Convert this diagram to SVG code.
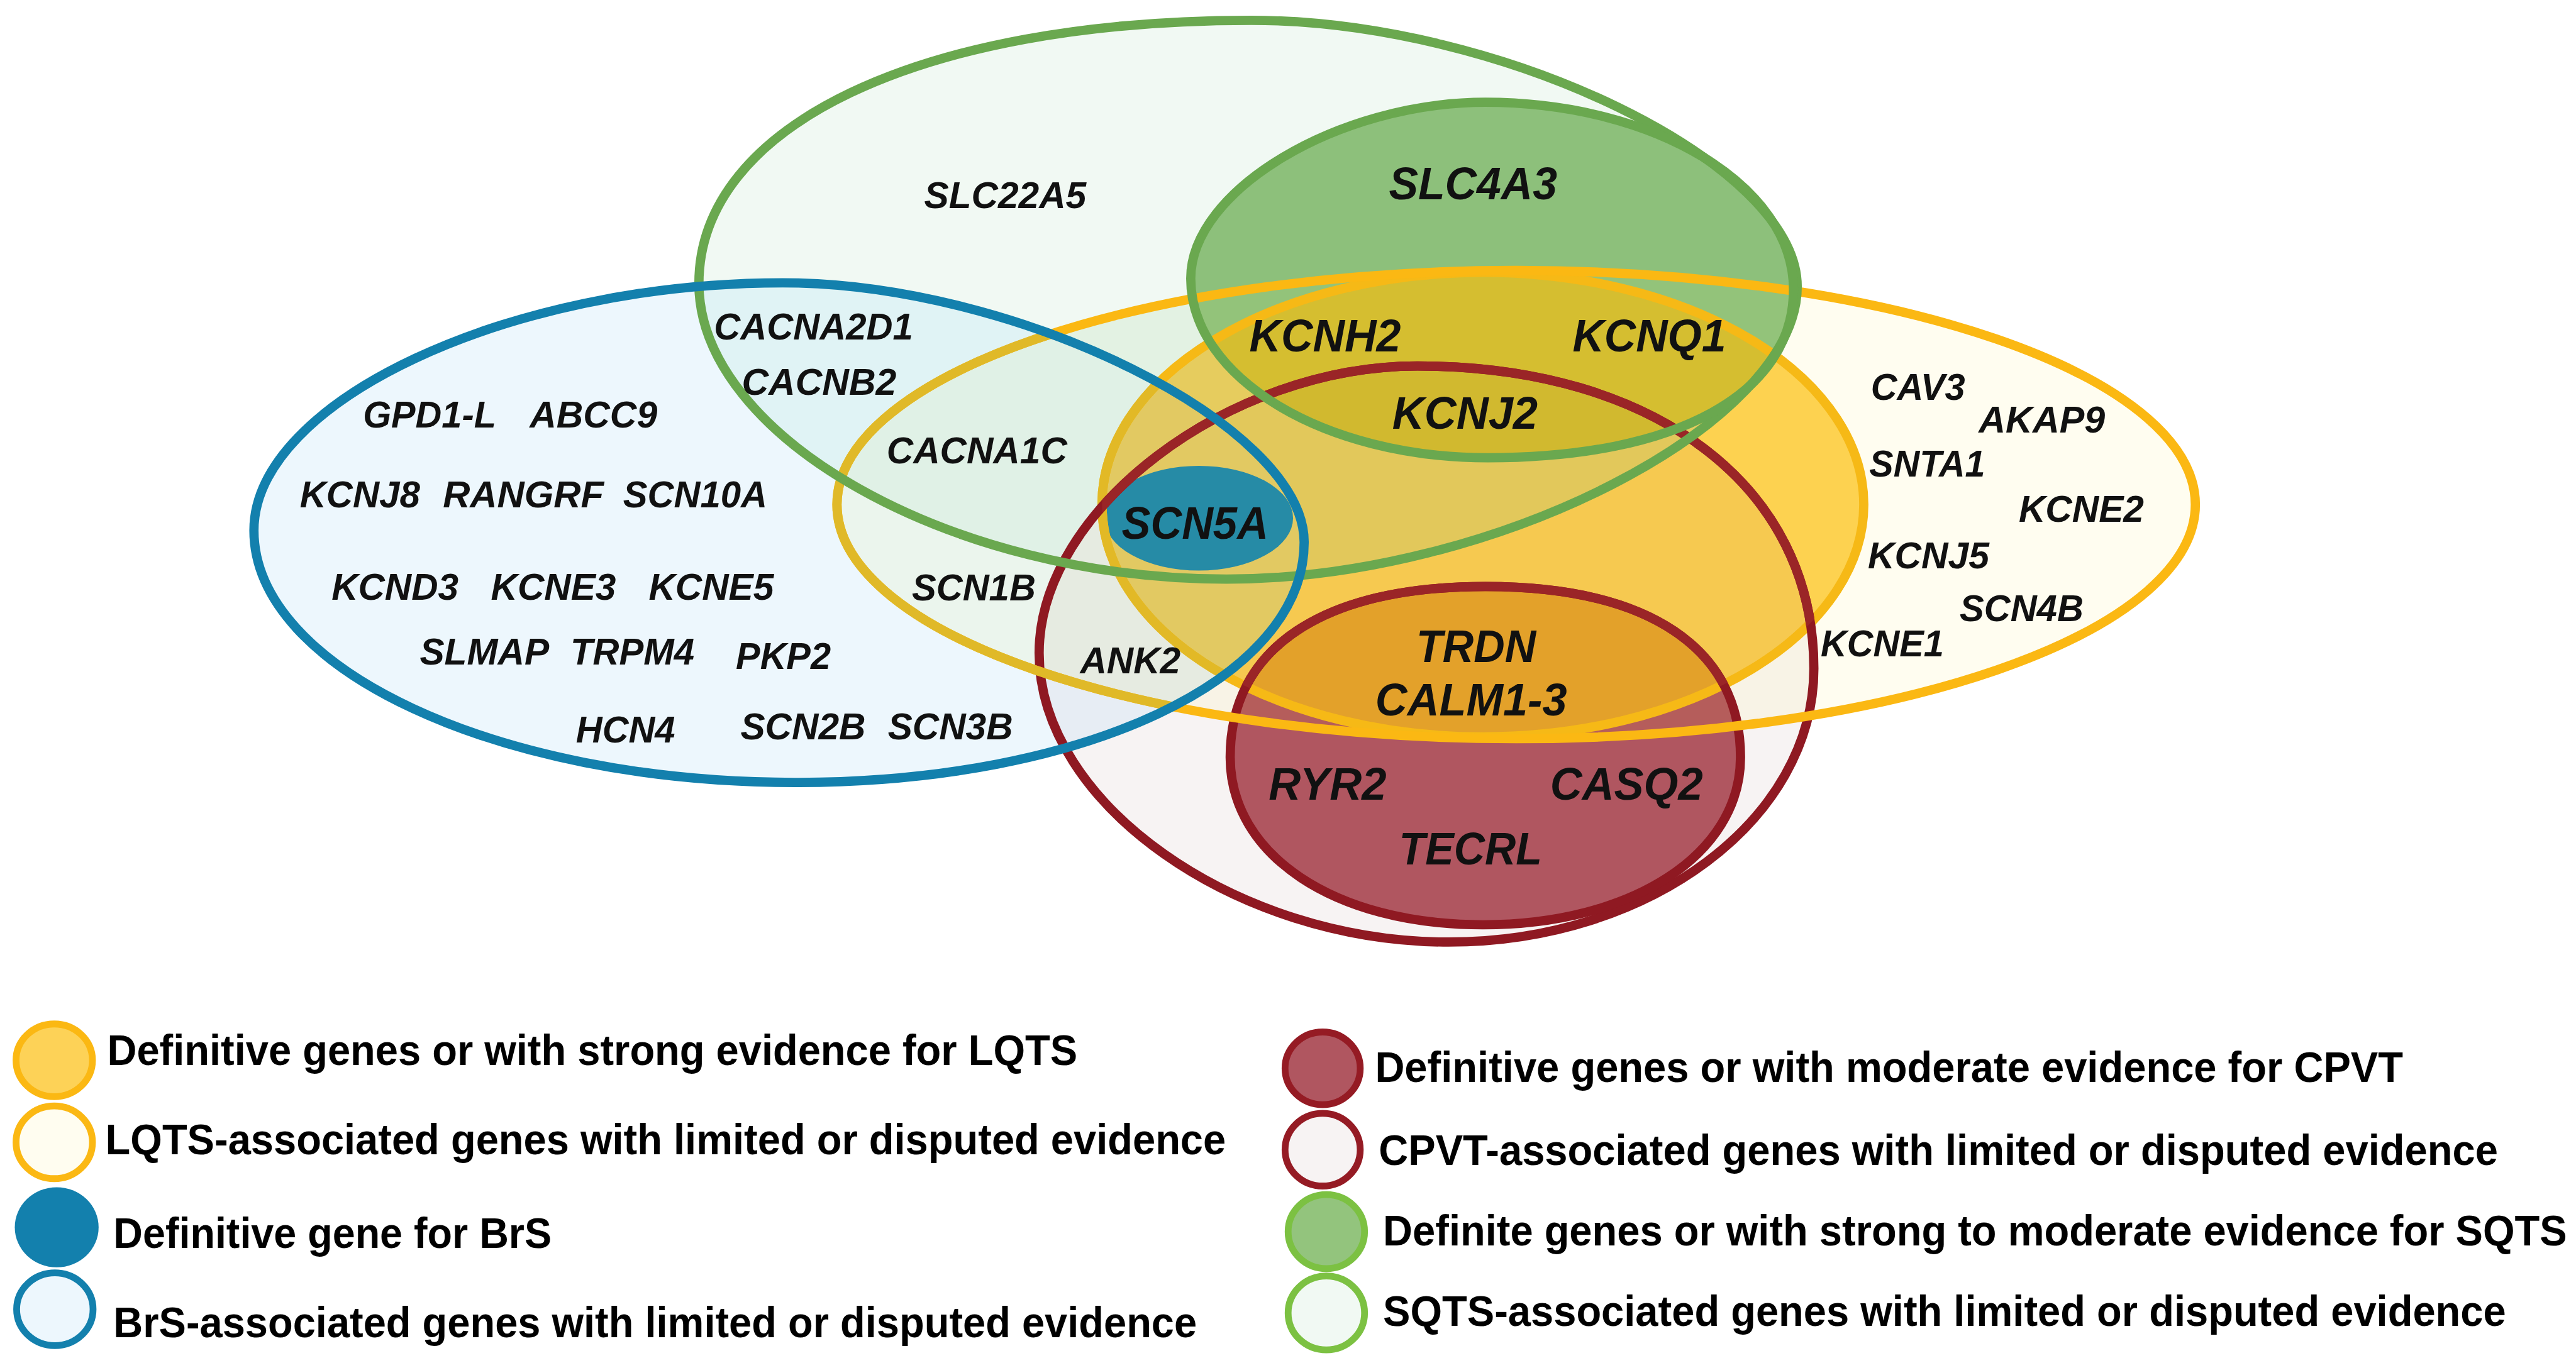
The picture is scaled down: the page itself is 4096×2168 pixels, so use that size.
<svg xmlns="http://www.w3.org/2000/svg" width="4096" height="2168" viewBox="0 0 4096 2168">
<style>
.g{font-family:"Liberation Sans",Arial,sans-serif;font-weight:700;font-style:italic;fill:#111;text-anchor:middle}
.s{font-size:61px}
.L{font-size:74px}
.lg{font-family:"Liberation Sans",Arial,sans-serif;font-weight:700;font-size:69px;fill:#000}
.ol{fill:none;stroke-width:15}
.lc{stroke-width:11}
</style>
<defs>
<ellipse id="YB" cx="2460" cy="819" rx="1102" ry="380"/>
<ellipse id="YS" cx="2406" cy="819" rx="618" ry="377"/>
<path id="GB" d="M1134,460 C1134,204 1492,33 2030,33 C2438,33 2916,266 2916,465 C2916,688 2425,940 1990,940 C1545,940 1134,710 1134,460 Z"/>
<path id="GS" d="M1932,452 C1932,309 2171,166 2410,166 C2686,166 2910,302 2910,470 C2910,639 2721,743 2414,743 C2148,743 1932,613 1932,452 Z"/>
<path id="RB" d="M1686,1060 C1686,827 1993,594 2300,594 C2686,594 2943,790 2943,1085 C2943,1330 2677,1529 2350,1529 C2005,1529 1686,1304 1686,1060 Z"/>
<path id="RS" d="M1996,1229 C1996,1052 2145,952 2410,952 C2675,952 2824,1052 2824,1229 C2824,1387 2648,1501 2406,1501 C2164,1501 1996,1387 1996,1229 Z"/>
<path id="BB" d="M412,861 C412,652 824,459 1270,459 C1651,459 2116,690 2116,880 C2116,1102 1761,1270 1290,1270 C807,1270 412,1086 412,861 Z"/>
<ellipse id="BS" cx="1945" cy="841" rx="153" ry="85"/>
<clipPath id="cYB"><use href="#YB"/></clipPath>
<clipPath id="cYS"><use href="#YS"/></clipPath>
<clipPath id="cGB"><use href="#GB"/></clipPath>
<clipPath id="cRB"><use href="#RB"/></clipPath>
<clipPath id="cBB"><use href="#BB"/></clipPath>
</defs>
<rect width="4096" height="2168" fill="#ffffff"/>
<g transform="scale(0.98)">
<g id="set-regions">
<use href="#YB" fill="#fffdf0"/>
<use href="#BB" fill="#edf7fd"/>
<use href="#GB" fill="#f1f9f3"/>
<use href="#RB" fill="#f7f3f3"/>
<g clip-path="url(#cGB)"><use href="#BB" fill="#e0f3f5"/><use href="#YB" fill="#e3f2e3"/></g>
<g clip-path="url(#cYB)"><use href="#BB" fill="#ebf5ed"/><use href="#RB" fill="#f8f3e6"/></g>
<g clip-path="url(#cGB)"><g clip-path="url(#cYB)"><use href="#BB" fill="#e0f1e6"/></g></g>
<g clip-path="url(#cBB)"><use href="#RB" fill="#e7edf4"/></g>
<g clip-path="url(#cBB)"><g clip-path="url(#cYB)"><use href="#RB" fill="#e6ebe1"/></g></g>
<use href="#GS" fill="#8dc07b"/>
<g clip-path="url(#cYB)"><use href="#GS" fill="#93c37a"/></g>
<use href="#RS" fill="#b05660"/>
<g clip-path="url(#cYB)"><use href="#RS" fill="#b55d5b"/></g>
<use href="#YS" fill="#fdd250"/>
<g clip-path="url(#cYS)">
<use href="#RB" fill="#f6c950"/>
<use href="#GB" fill="#e6cc5e"/>
<g clip-path="url(#cRB)"><use href="#GB" fill="#e2c85b"/></g>
<use href="#BB" fill="#e2c962"/>
<use href="#GS" fill="#d5be30"/>
<g clip-path="url(#cRB)"><use href="#GS" fill="#d1b92f"/></g>
<use href="#RS" fill="#e3a12a"/>
</g>
<use href="#BS" fill="#268ba6"/>
</g>
<g id="set-outlines" class="ol">
<use href="#YS" stroke="#f6b916"/>
<g clip-path="url(#cBB)"><use href="#YS" stroke="#e2b926"/></g>
<use href="#RB" stroke="#8f1922"/>
<use href="#RS" stroke="#8f1922"/>
<g clip-path="url(#cYS)"><use href="#RB" stroke="#9a2527"/><use href="#RS" stroke="#9a2527"/></g>
<use href="#YB" stroke="#fbb813"/>
<g clip-path="url(#cBB)"><use href="#YB" stroke="#e0b928"/></g>
<use href="#GB" stroke="#6aa84f"/>
<use href="#GS" stroke="#6aa84f"/>
<use href="#BB" stroke="#1380ad"/>
</g>
<g id="labels-brs-limited" class="g s">
<text x="697" y="694" textLength="216" lengthAdjust="spacingAndGlyphs">GPD1-L</text>
<text x="963" y="694" textLength="207" lengthAdjust="spacingAndGlyphs">ABCC9</text>
<text x="584" y="823" textLength="195" lengthAdjust="spacingAndGlyphs">KCNJ8</text>
<text x="849" y="823" textLength="261" lengthAdjust="spacingAndGlyphs">RANGRF</text>
<text x="1128" y="823" textLength="234" lengthAdjust="spacingAndGlyphs">SCN10A</text>
<text x="641" y="973" textLength="206" lengthAdjust="spacingAndGlyphs">KCND3</text>
<text x="898" y="973" textLength="203" lengthAdjust="spacingAndGlyphs">KCNE3</text>
<text x="1154" y="973" textLength="203" lengthAdjust="spacingAndGlyphs">KCNE5</text>
<text x="786" y="1079" textLength="210" lengthAdjust="spacingAndGlyphs">SLMAP</text>
<text x="1026" y="1079" textLength="201" lengthAdjust="spacingAndGlyphs">TRPM4</text>
<text x="1271" y="1086" textLength="154" lengthAdjust="spacingAndGlyphs">PKP2</text>
<text x="1015" y="1205" textLength="161" lengthAdjust="spacingAndGlyphs">HCN4</text>
<text x="1303" y="1200" textLength="203" lengthAdjust="spacingAndGlyphs">SCN2B</text>
<text x="1542" y="1200" textLength="203" lengthAdjust="spacingAndGlyphs">SCN3B</text>
</g>
<g id="labels-brs-sqts" class="g s">
<text x="1320" y="551" textLength="323" lengthAdjust="spacingAndGlyphs">CACNA2D1</text>
<text x="1329" y="641" textLength="251" lengthAdjust="spacingAndGlyphs">CACNB2</text>
</g>
<g id="labels-sqts-limited" class="g s">
<text x="1631" y="338" textLength="263" lengthAdjust="spacingAndGlyphs">SLC22A5</text>
</g>
<g id="labels-sqts-definitive" class="g L">
<text x="2390" y="323" textLength="273" lengthAdjust="spacingAndGlyphs">SLC4A3</text>
</g>
<g id="labels-brs-lqts" class="g s">
<text x="1585" y="752" textLength="293" lengthAdjust="spacingAndGlyphs">CACNA1C</text>
<text x="1580" y="974" textLength="201" lengthAdjust="spacingAndGlyphs">SCN1B</text>
<text x="1834" y="1093" textLength="163" lengthAdjust="spacingAndGlyphs">ANK2</text>
</g>
<g id="labels-brs-definitive" class="g L">
<text x="1939" y="874" textLength="238" lengthAdjust="spacingAndGlyphs">SCN5A</text>
</g>
<g id="labels-lqts-sqts" class="g L">
<text x="2150" y="570" textLength="246" lengthAdjust="spacingAndGlyphs">KCNH2</text>
<text x="2676" y="570" textLength="249" lengthAdjust="spacingAndGlyphs">KCNQ1</text>
<text x="2377" y="696" textLength="236" lengthAdjust="spacingAndGlyphs">KCNJ2</text>
</g>
<g id="labels-lqts-cpvt" class="g L">
<text x="2395" y="1074" textLength="194" lengthAdjust="spacingAndGlyphs">TRDN</text>
<text x="2387" y="1161" textLength="311" lengthAdjust="spacingAndGlyphs">CALM1-3</text>
</g>
<g id="labels-cpvt-definitive" class="g L">
<text x="2154" y="1298" textLength="191" lengthAdjust="spacingAndGlyphs">RYR2</text>
<text x="2639" y="1298" textLength="248" lengthAdjust="spacingAndGlyphs">CASQ2</text>
<text x="2386" y="1403" textLength="232" lengthAdjust="spacingAndGlyphs">TECRL</text>
</g>
<g id="labels-lqts-limited" class="g s">
<text x="3112" y="649" textLength="153" lengthAdjust="spacingAndGlyphs">CAV3</text>
<text x="3313" y="702" textLength="205" lengthAdjust="spacingAndGlyphs">AKAP9</text>
<text x="3127" y="773" textLength="188" lengthAdjust="spacingAndGlyphs">SNTA1</text>
<text x="3377" y="847" textLength="203" lengthAdjust="spacingAndGlyphs">KCNE2</text>
<text x="3129" y="922" textLength="197" lengthAdjust="spacingAndGlyphs">KCNJ5</text>
<text x="3280" y="1008" textLength="201" lengthAdjust="spacingAndGlyphs">SCN4B</text>
<text x="3054" y="1065" textLength="200" lengthAdjust="spacingAndGlyphs">KCNE1</text>
</g>
<g id="legend">
<g id="legend-lqts-definitive"><ellipse class="lc" cx="88" cy="1721" rx="62" ry="59" fill="#fdd257" stroke="#fbb813"/><text class="lg" x="174" y="1729" textLength="1574" lengthAdjust="spacingAndGlyphs">Definitive genes or with strong evidence for LQTS</text></g>
<g id="legend-lqts-limited"><ellipse class="lc" cx="88" cy="1854" rx="62" ry="59" fill="#fffdf0" stroke="#fbb813"/><text class="lg" x="171" y="1873" textLength="1818" lengthAdjust="spacingAndGlyphs">LQTS-associated genes with limited or disputed evidence</text></g>
<g id="legend-brs-definitive"><ellipse cx="92" cy="1992" rx="68" ry="65" fill="#1380ad"/><text class="lg" x="184" y="2025" textLength="711" lengthAdjust="spacingAndGlyphs">Definitive gene for BrS</text></g>
<g id="legend-brs-limited"><ellipse class="lc" cx="89" cy="2125" rx="62" ry="59" fill="#edf7fd" stroke="#1380ad"/><text class="lg" x="184" y="2170" textLength="1758" lengthAdjust="spacingAndGlyphs">BrS-associated genes with limited or disputed evidence</text></g>
<g id="legend-cpvt-definitive"><ellipse class="lc" cx="2146" cy="1734" rx="61" ry="59" fill="#b05660" stroke="#951b24"/><text class="lg" x="2231" y="1756" textLength="1668" lengthAdjust="spacingAndGlyphs">Definitive genes or with moderate evidence for CPVT</text></g>
<g id="legend-cpvt-limited"><ellipse class="lc" cx="2146" cy="1866" rx="61" ry="59" fill="#f7f3f3" stroke="#951b24"/><text class="lg" x="2237" y="1891" textLength="1816" lengthAdjust="spacingAndGlyphs">CPVT-associated genes with limited or disputed evidence</text></g>
<g id="legend-sqts-definitive"><ellipse class="lc" cx="2152" cy="1999" rx="62" ry="60" fill="#93c47d" stroke="#7cc142"/><text class="lg" x="2244" y="2021" textLength="1921" lengthAdjust="spacingAndGlyphs">Definite genes or with strong to moderate evidence for SQTS</text></g>
<g id="legend-sqts-limited"><ellipse class="lc" cx="2152" cy="2131" rx="62" ry="60" fill="#f1f9f3" stroke="#7cc142"/><text class="lg" x="2244" y="2152" textLength="1822" lengthAdjust="spacingAndGlyphs">SQTS-associated genes with limited or disputed evidence</text></g>
</g>
</g>
</svg>
